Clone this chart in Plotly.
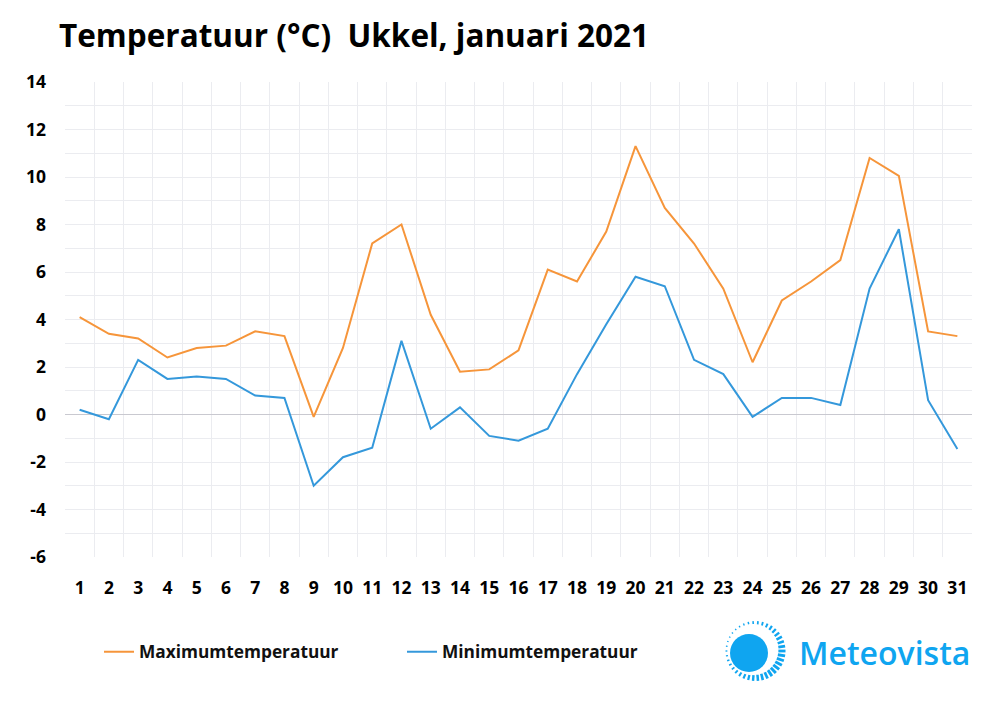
import math
import plotly.graph_objects as go

# daily values
days = list(range(1, 32))
t_max = [4.1, 3.4, 3.2, 2.4, 2.8, 2.9, 3.5, 3.3, -0.1, 2.8, 7.2, 8.0, 4.2, 1.8, 1.9, 2.7,
         6.1, 5.6, 7.7, 11.3, 8.7, 7.2, 5.3, 2.2, 4.8, 5.6, 6.5, 10.8, 10.05, 3.5, 3.3]
t_min = [0.2, -0.2, 2.3, 1.5, 1.6, 1.5, 0.8, 0.7, -3.0, -1.8, -1.4, 3.1, -0.6, 0.3, -0.9, -1.1,
         -0.6, 1.7, 3.8, 5.8, 5.4, 2.3, 1.7, -0.1, 0.7, 0.7, 0.4, 5.3, 7.8, 0.6, -1.45]
y_ticks = [-6, -4, -2, 0, 2, 4, 6, 8, 10, 12, 14]
y_labels = ["-6", "-4", "-2", "0", "2", "4", "6", "8", "10", "12", "14"]
y_grid = list(range(-5, 14))
x_grid = [d + 0.5 for d in days[:-1]]

# the page has an 8px body margin, so the figure is 8px smaller than the window
W, H = 985, 694
ORANGE = "#f6953a"
BLUE = "#3498db"
LOGO = "#0fa5f0"
GRID = "#ebecf0"
FONT = "Open Sans"
PLOT_L, PLOT_R, PLOT_T, PLOT_B = 65, 972, 82, 557  # in window pixels


def px(x):
    return (x - PLOT_L) / (PLOT_R - PLOT_L)


def py(y):
    return (PLOT_B - y) / (PLOT_B - PLOT_T)


fig = go.Figure()
fig.add_trace(go.Scatter(x=days, y=t_max, mode="lines", name="Maximumtemperatuur",
                         line=dict(color=ORANGE, width=2)))
fig.add_trace(go.Scatter(x=days, y=t_min, mode="lines", name="Minimumtemperatuur",
                         line=dict(color=BLUE, width=2)))

# logo: sun disc with a ring of rays, heavier towards the lower right
shapes = [dict(type="circle", xref="paper", yref="paper",
               x0=px(730), x1=px(768), y0=py(672), y1=py(634),
               fillcolor=LOGO, line=dict(width=0))]
n_rays = 38
for i in range(n_rays):
    a = 2 * math.pi * i / n_rays
    grow = (1 + math.cos(a - 0.5)) / 2
    r1 = 30
    r0 = r1 - (1.5 + 6 * grow)
    c, s = math.cos(a), math.sin(a)
    shapes.append(dict(type="line", xref="paper", yref="paper",
                       x0=px(755.5 + r0 * c), y0=py(651 + r0 * s),
                       x1=px(755.5 + r1 * c), y1=py(651 + r1 * s),
                       line=dict(color=LOGO, width=1.2 + 1.7 * grow)))

fig.update_layout(
    width=W, height=H,
    margin=dict(l=PLOT_L - 8, r=W + 8 - PLOT_R, t=PLOT_T - 8, b=H + 8 - PLOT_B, autoexpand=False),
    paper_bgcolor="white", plot_bgcolor="white",
    font=dict(family=FONT, color="black"),
    shapes=shapes,
    showlegend=True,
    legend=dict(orientation="h", x=px(99), xanchor="left", y=py(652), yanchor="middle",
                entrywidth=258, entrywidthmode="pixels", bgcolor="rgba(0,0,0,0)",
                font=dict(family=FONT, size=17.3, weight=700, color="#111111")),
    annotations=[
        dict(text="Temperatuur (°C)  Ukkel, januari 2021", xref="paper", yref="paper",
             x=px(57), y=py(35), xanchor="left", yanchor="middle", showarrow=False,
             font=dict(family=FONT, size=31.5, weight=700, color="black")),
        dict(text="Meteovista", xref="paper", yref="paper",
             x=px(797), y=py(652), xanchor="left", yanchor="middle", showarrow=False,
             font=dict(family=FONT, size=32, weight=600, color=LOGO)),
    ],
)
fig.update_xaxes(range=[0.5, 31.5], tickmode="array", tickvals=days, showgrid=False,
                 zeroline=False, showline=False, ticks="", ticklabelstandoff=18,
                 tickfont=dict(family=FONT, size=17.5, weight=700, color="black"),
                 minor=dict(tickmode="array", tickvals=x_grid, showgrid=True,
                            gridcolor=GRID, gridwidth=1))
fig.update_yaxes(range=[-6, 14], tickmode="array", tickvals=y_ticks, ticktext=y_labels,
                 showgrid=False, zeroline=True, zerolinecolor="#c9c9d0", zerolinewidth=1,
                 showline=False, ticks="", ticklabelstandoff=18,
                 tickfont=dict(family=FONT, size=17.5, weight=700, color="black"),
                 minor=dict(tickmode="array", tickvals=y_grid, showgrid=True,
                            gridcolor=GRID, gridwidth=1))

fig.write_html("out.html")
